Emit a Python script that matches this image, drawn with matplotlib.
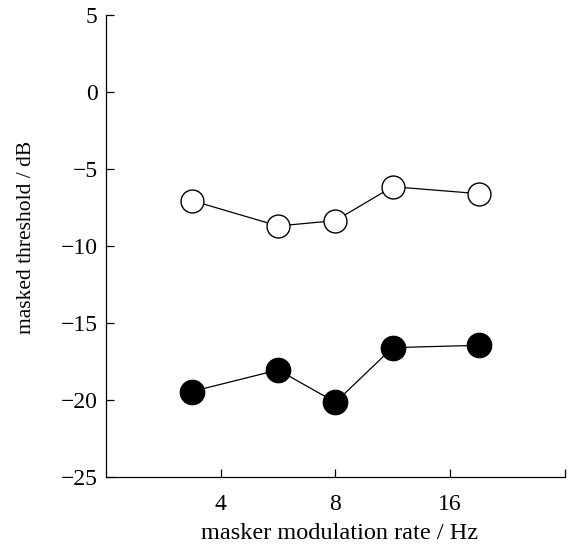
import matplotlib.pyplot as plt
from matplotlib.ticker import FixedLocator, FixedFormatter, NullLocator

plt.rcParams['font.family'] = ['Liberation Serif', 'DejaVu Serif']

# modulation rates (Hz) and masked thresholds (dB)
rates = [3.36, 5.66, 8.0, 11.3, 19.0]
open_thr = [-7.05, -8.7, -8.35, -6.15, -6.6]
filled_thr = [-19.45, -18.05, -20.15, -16.6, -16.45]

x_ticks = [4, 8, 16]
y_ticks = [5, 0, -5, -10, -15, -20, -25]

fig = plt.figure(figsize=(5.68, 5.48), dpi=100)
ax = fig.add_axes([0.1866, 0.1296, 0.808, 0.843])

ax.plot(rates, open_thr, color='black', lw=0.9, marker='o', ms=16.5,
        mfc='white', mec='black', mew=1.0)
ax.plot(rates, filled_thr, color='black', lw=0.9, marker='o', ms=17.5,
        mfc='black', mec='black')

ax.set_xscale('log', base=2)
ax.set_xlim(2, 32)
ax.set_ylim(-25, 5)
ax.xaxis.set_major_locator(FixedLocator(x_ticks + [32]))
ax.xaxis.set_major_formatter(FixedFormatter([str(t) for t in x_ticks] + ['']))
ax.xaxis.set_minor_locator(NullLocator())
ax.set_yticks(y_ticks)

for s in ('top', 'right'):
    ax.spines[s].set_visible(False)
for s in ('left', 'bottom'):
    ax.spines[s].set_linewidth(0.9)

ax.tick_params(direction='in', length=6, width=0.9, labelsize=17, pad=12)
ax.tick_params(axis='y', pad=6)

ax.set_xlabel('masker modulation rate / Hz', fontsize=17.5)
ax.set_ylabel('masked threshold / dB', fontsize=15.5)
ax.xaxis.set_label_coords(0.509, -0.100)
ax.yaxis.set_label_coords(-0.152, 0.519)

fig.savefig('out.png', dpi=100)
